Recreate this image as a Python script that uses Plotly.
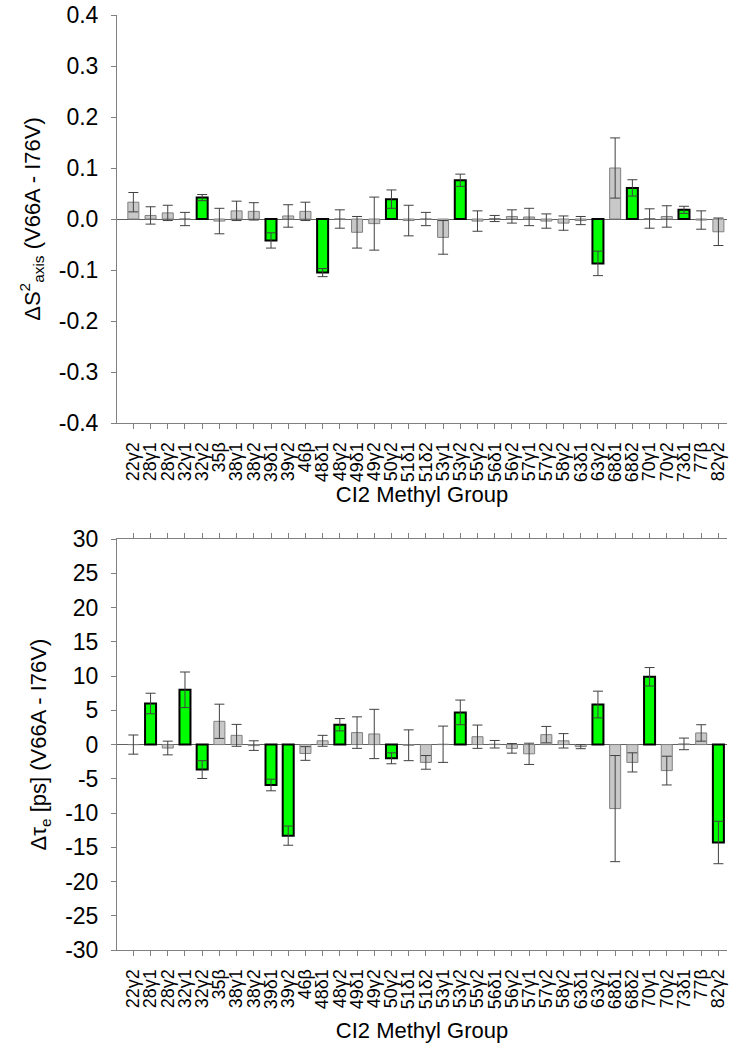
import plotly.graph_objects as go
from plotly.subplots import make_subplots

categories = ["22γ2", "28γ1", "28γ2", "32γ1", "32γ2", "35β", "38γ1", "38γ2", "39δ1", "39γ2",
              "46β", "48δ1", "48γ2", "49δ1", "49γ2", "50γ2", "51δ1", "51δ2", "53γ1", "53γ2",
              "55γ2", "56δ1", "56γ2", "57γ1", "57γ2", "58γ2", "63δ1", "63γ2", "68δ1", "68δ2",
              "70γ1", "70γ2", "73δ1", "77β", "82γ2"]

ds2_values = [0.033, 0.007, 0.012, 0.000, 0.042, -0.004, 0.016, 0.015, -0.042, 0.006,
              0.015, -0.105, 0.000, -0.026, -0.009, 0.039, -0.003, 0.000, -0.036, 0.076,
              -0.004, 0.001, 0.005, 0.004, -0.004, -0.008, -0.003, -0.087, 0.100, 0.061,
              0.001, 0.005, 0.018, -0.002, -0.025]
ds2_errors = [0.019, 0.017, 0.015, 0.013, 0.006, 0.025, 0.019, 0.017, 0.015, 0.022,
              0.018, 0.008, 0.018, 0.031, 0.052, 0.018, 0.030, 0.013, 0.033, 0.012,
              0.020, 0.006, 0.013, 0.017, 0.014, 0.014, 0.008, 0.024, 0.059, 0.016,
              0.019, 0.021, 0.007, 0.018, 0.027]
ds2_highlight = ["32γ2", "39δ1", "48δ1", "50γ2", "53γ2", "63γ2", "68δ2", "73δ1"]

dtau_values = [0.0, 6.0, -0.5, 8.0, -3.65, 3.4, 1.35, -0.15, -5.9, -13.3,
               -1.3, 0.55, 2.9, 1.75, 1.55, -2.0, -0.1, -2.6, 0.05, 4.7,
               1.15, 0.05, -0.55, -1.35, 1.45, 0.55, -0.3, 5.85, -9.35, -2.6,
               9.9, -3.8, 0.1, 1.7, -14.3]
dtau_errors = [1.4, 1.5, 1.0, 2.6, 1.3, 2.5, 1.6, 0.7, 0.85, 1.4,
               1.0, 0.8, 0.9, 2.3, 3.6, 0.8, 2.25, 1.0, 2.65, 1.8,
               1.7, 0.55, 0.7, 1.55, 1.2, 1.05, 0.3, 1.95, 7.75, 1.4,
               1.35, 2.1, 0.85, 1.2, 3.1]
dtau_highlight = ["28γ1", "32γ1", "32γ2", "39δ1", "39γ2", "48γ2", "50γ2", "53γ2", "63γ2",
                  "70γ1", "82γ2"]

ds2_tickvals = [-0.4, -0.3, -0.2, -0.1, 0.0, 0.1, 0.2, 0.3, 0.4]
ds2_ticktext = ["-0.4", "-0.3", "-0.2", "-0.1", "0.0", "0.1", "0.2", "0.3", "0.4"]
dtau_tickvals = [-30, -25, -20, -15, -10, -5, 0, 5, 10, 15, 20, 25, 30]
dtau_ticktext = ["-30", "-25", "-20", "-15", "-10", "-5", "0", "5", "10", "15", "20", "25", "30"]

FONT = "Liberation Sans, Arial, sans-serif"
GREEN = "#00ff00"
GRAY = "#c8c8c8"


def bar_trace(values, errors, highlight):
    hl = [c in highlight for c in categories]
    return go.Bar(
        x=categories, y=values, width=0.64,
        marker=dict(color=[GREEN if h else GRAY for h in hl],
                    line=dict(color=["#000000" if h else "#808080" for h in hl],
                              width=[2 if h else 1 for h in hl])),
        error_y=dict(type="data", array=errors, symmetric=True,
                     color="#404040", thickness=1, width=5),
        showlegend=False,
    )


fig = make_subplots(rows=2, cols=1)
fig.add_trace(bar_trace(ds2_values, ds2_errors, ds2_highlight), row=1, col=1)
fig.add_trace(bar_trace(dtau_values, dtau_errors, dtau_highlight), row=2, col=1)

xcommon = dict(type="category", range=[-0.95, 34.5], showline=True, linecolor="#808080",
               linewidth=1, ticks="outside", ticklen=5, tickcolor="#808080", tickangle=-90,
               tickmode="array", tickvals=categories, ticktext=categories,
               tickfont=dict(family=FONT, size=18, color="black"), showgrid=False,
               zeroline=False, automargin=False, ticklabelstandoff=6,
               ticklabeloverflow="allow")
ycommon = dict(showline=True, linecolor="#808080", linewidth=1, ticks="outside", ticklen=5,
               tickcolor="#808080", tickfont=dict(family=FONT, size=23, color="black"),
               ticklabelstandoff=8, automargin=False, ticklabeloverflow="allow",
               showgrid=False, zeroline=True, zerolinecolor="#606060", zerolinewidth=1)

fig.update_xaxes(**xcommon,
                 title=dict(text="CI2 Methyl Group", font=dict(family=FONT, size=22, color="black"),
                            standoff=0),
                 row=1, col=1)
fig.update_xaxes(**xcommon, mirror="ticks",
                 title=dict(text="CI2 Methyl Group", font=dict(family=FONT, size=22, color="black"),
                            standoff=14),
                 row=2, col=1)
fig.update_yaxes(**ycommon, range=[-0.4, 0.4], tickvals=ds2_tickvals, ticktext=ds2_ticktext,
                 title=dict(text="ΔS<sup>2</sup><sub>axis</sub> (V66A - I76V)",
                            font=dict(family=FONT, size=22, color="black"), standoff=12),
                 row=1, col=1)
fig.update_yaxes(**ycommon, range=[-30, 30], tickvals=dtau_tickvals, ticktext=dtau_ticktext,
                 title=dict(text="Δτ<sub>e</sub> [ps] (V66A - I76V)",
                            font=dict(family=FONT, size=22, color="black"), standoff=12),
                 row=2, col=1)

fig.update_layout(
    width=750, height=1050,
    margin=dict(l=117, r=23, t=15, b=100, autoexpand=False),
    paper_bgcolor="white", plot_bgcolor="white",
    font=dict(family=FONT, color="black"),
)
fig.update_layout(yaxis=dict(domain=[0.5636, 1.0]), yaxis2=dict(domain=[0.0, 0.4394]))

fig.write_html("out.html", config={"displayModeBar": False},
               post_script="document.body.style.margin='0';")
